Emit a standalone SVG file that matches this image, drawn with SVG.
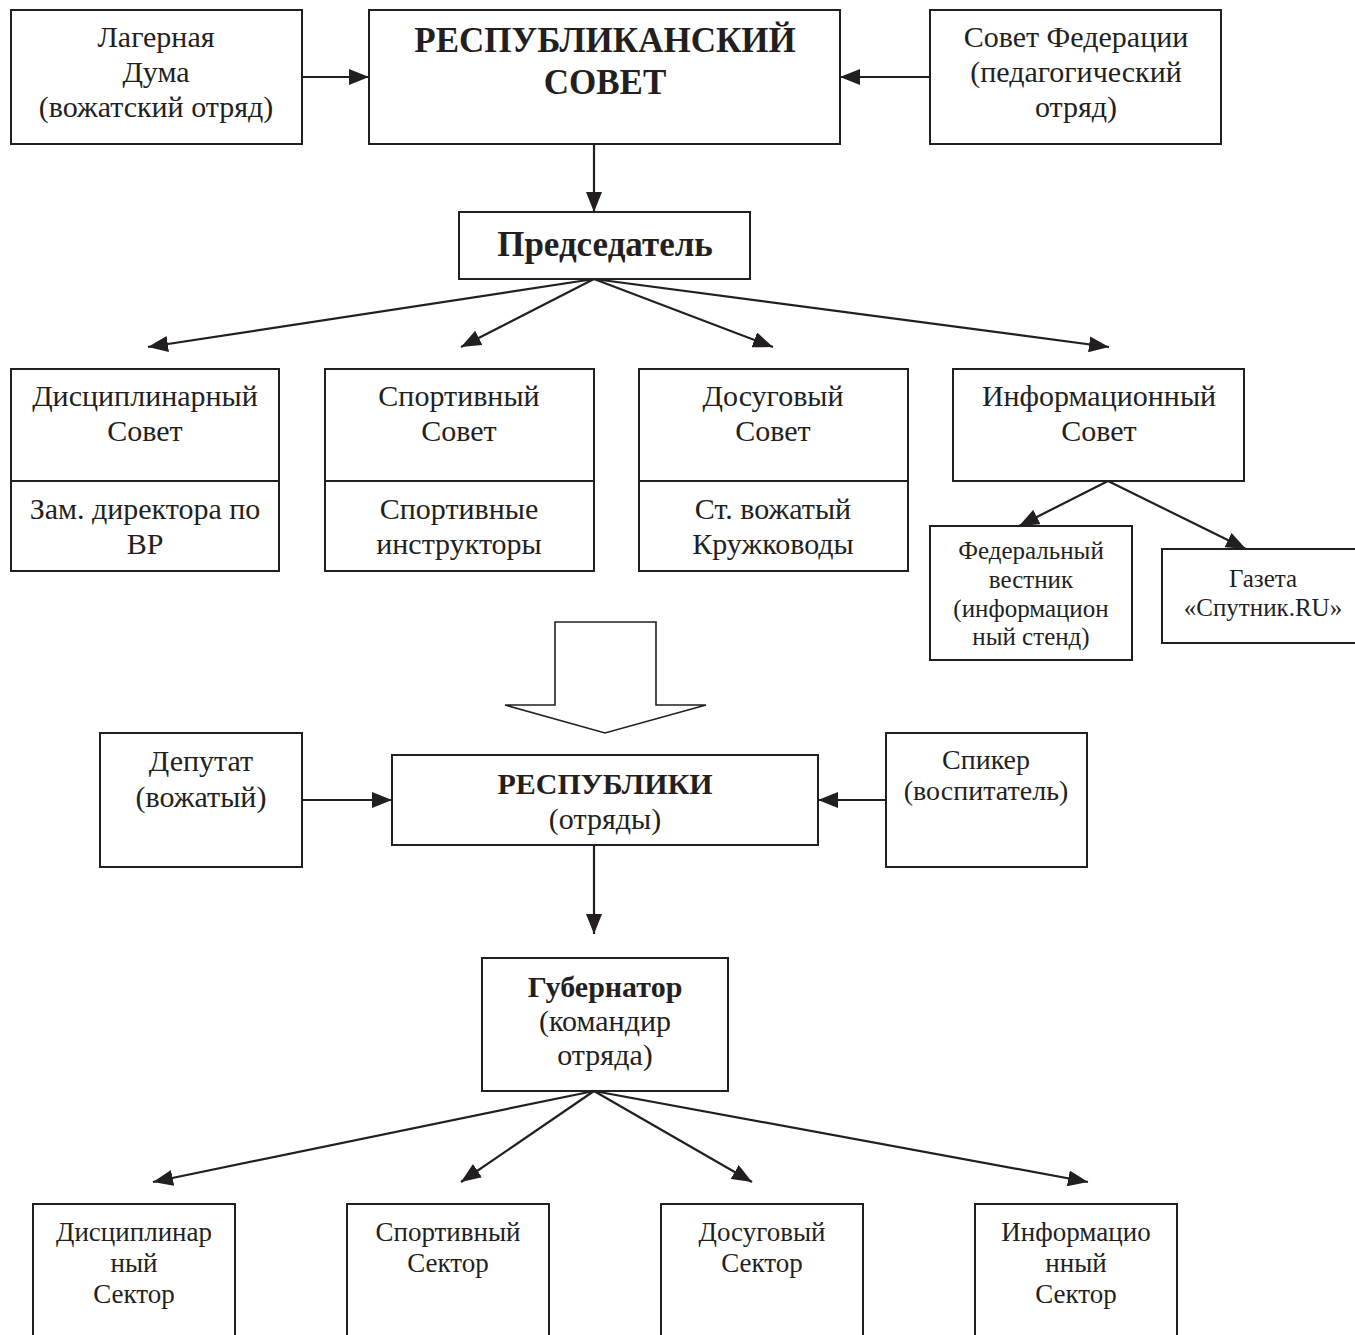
<svg xmlns="http://www.w3.org/2000/svg" width="1355" height="1335" viewBox="0 0 1355 1335">
<style>
.b{fill:#fff;stroke:#231f20;stroke-width:2}
.t{font-family:"Liberation Serif","Times New Roman",serif;fill:#231f20;text-anchor:middle;font-size:30px}
.s{font-size:25px}
.m{font-size:30px}
.k{font-size:27px}
.bd{font-weight:bold}
.c{stroke:#231f20;stroke-width:2.2;fill:none;marker-end:url(#a)}
</style>
<defs>
<marker id="a" markerUnits="userSpaceOnUse" markerWidth="22" markerHeight="16" refX="20" refY="8" orient="auto">
<path d="M0,0 L20,8 L0,16 Z" fill="#231f20"/>
</marker>
</defs>
<rect width="1355" height="1335" fill="#fff"/>
<g id="connectors">
<line class="c" x1="302" y1="77" x2="369" y2="77"/>
<line class="c" x1="930" y1="77" x2="840" y2="77"/>
<line class="c" x1="594" y1="144" x2="594" y2="212"/>
<line class="c" x1="594" y1="279" x2="148" y2="347"/>
<line class="c" x1="594" y1="279" x2="461" y2="347"/>
<line class="c" x1="594" y1="279" x2="773" y2="347"/>
<line class="c" x1="594" y1="279" x2="1109" y2="347"/>
<line class="c" x1="1108" y1="481" x2="1019" y2="526"/>
<line class="c" x1="1108" y1="481" x2="1246" y2="549"/>
<line class="c" x1="302" y1="800" x2="392" y2="800"/>
<line class="c" x1="886" y1="800" x2="818" y2="800"/>
<line class="c" x1="594" y1="845" x2="594" y2="934"/>
<line class="c" x1="594" y1="1091" x2="153" y2="1182"/>
<line class="c" x1="594" y1="1091" x2="461" y2="1182"/>
<line class="c" x1="594" y1="1091" x2="752" y2="1182"/>
<line class="c" x1="594" y1="1091" x2="1088" y2="1182"/>
<path d="M555,622 H656 V705 H706 L605,733 L505,705 H555 Z" fill="#fff" stroke="#231f20" stroke-width="1.6"/>
</g>
<g id="duma"><rect class="b" x="11" y="10" width="291" height="134"/>
<text class="t" x="156" y="47">Лагерная</text><text class="t" x="156" y="82">Дума</text><text class="t" x="156" y="117">(вожатский отряд)</text></g>
<g id="resp-sovet"><rect class="b" x="369" y="10" width="471" height="134"/>
<text class="t bd" x="605" y="52" style="font-size:35px">РЕСПУБЛИКАНСКИЙ</text><text class="t bd" x="605" y="94" style="font-size:35px">СОВЕТ</text></g>
<g id="sovet-fed"><rect class="b" x="930" y="10" width="291" height="134"/>
<text class="t" x="1076" y="47">Совет Федерации</text><text class="t" x="1076" y="82">(педагогический</text><text class="t" x="1076" y="117">отряд)</text></g>
<g id="predsedatel"><rect class="b" x="459" y="212" width="291" height="67"/>
<text class="t bd" x="605" y="256" style="font-size:35px">Председатель</text></g>
<g id="disc-sovet"><rect class="b" x="11" y="369" width="268" height="202"/><line class="b" x1="11" y1="481" x2="279" y2="481"/>
<text class="t" x="145" y="406">Дисциплинарный</text><text class="t" x="145" y="441">Совет</text>
<text class="t" x="145" y="519">Зам. директора по</text><text class="t" x="145" y="554">ВР</text></g>
<g id="sport-sovet"><rect class="b" x="325" y="369" width="269" height="202"/><line class="b" x1="325" y1="481" x2="594" y2="481"/>
<text class="t" x="459" y="406">Спортивный</text><text class="t" x="459" y="441">Совет</text>
<text class="t" x="459" y="519">Спортивные</text><text class="t" x="459" y="554">инструкторы</text></g>
<g id="dosug-sovet"><rect class="b" x="639" y="369" width="269" height="202"/><line class="b" x1="639" y1="481" x2="908" y2="481"/>
<text class="t" x="773" y="406">Досуговый</text><text class="t" x="773" y="441">Совет</text>
<text class="t" x="773" y="519">Ст. вожатый</text><text class="t" x="773" y="554">Кружководы</text></g>
<g id="info-sovet"><rect class="b" x="953" y="369" width="291" height="112"/>
<text class="t" x="1099" y="406">Информационный</text><text class="t" x="1099" y="441">Совет</text></g>
<g id="fed-vestnik"><rect class="b" x="930" y="526" width="202" height="134"/>
<text class="t s" x="1031" y="559">Федеральный</text><text class="t s" x="1031" y="588">вестник</text><text class="t s" x="1031" y="617">(информацион</text><text class="t s" x="1031" y="645">ный стенд)</text></g>
<g id="gazeta"><rect class="b" x="1162" y="549" width="200" height="94"/>
<text class="t s" x="1263" y="587">Газета</text><text class="t s" x="1263" y="616">«Спутник.RU»</text></g>
<g id="deputat"><rect class="b" x="100" y="733" width="202" height="134"/>
<text class="t m" x="201" y="771">Депутат</text><text class="t m" x="201" y="807">(вожатый)</text></g>
<g id="respubliki"><rect class="b" x="392" y="755" width="426" height="90"/>
<text class="t m bd" x="605" y="794">РЕСПУБЛИКИ</text><text class="t m" x="605" y="829">(отряды)</text></g>
<g id="spiker"><rect class="b" x="886" y="733" width="201" height="134"/>
<text class="t" x="986" y="769" style="font-size:28px">Спикер</text><text class="t" x="986" y="800" style="font-size:28px">(воспитатель)</text></g>
<g id="gubernator"><rect class="b" x="482" y="958" width="246" height="133"/>
<text class="t m bd" x="605" y="997">Губернатор</text><text class="t m" x="605" y="1031">(командир</text><text class="t m" x="605" y="1065">отряда)</text></g>
<g id="disc-sector"><rect class="b" x="33" y="1204" width="202" height="140"/>
<text class="t k" x="134" y="1241">Дисциплинар</text><text class="t k" x="134" y="1272">ный</text><text class="t k" x="134" y="1303">Сектор</text></g>
<g id="sport-sector"><rect class="b" x="347" y="1204" width="202" height="140"/>
<text class="t k" x="448" y="1241">Спортивный</text><text class="t k" x="448" y="1272">Сектор</text></g>
<g id="dosug-sector"><rect class="b" x="661" y="1204" width="202" height="140"/>
<text class="t k" x="762" y="1241">Досуговый</text><text class="t k" x="762" y="1272">Сектор</text></g>
<g id="info-sector"><rect class="b" x="975" y="1204" width="202" height="140"/>
<text class="t k" x="1076" y="1241">Информацио</text><text class="t k" x="1076" y="1272">нный</text><text class="t k" x="1076" y="1303">Сектор</text></g>
</svg>
